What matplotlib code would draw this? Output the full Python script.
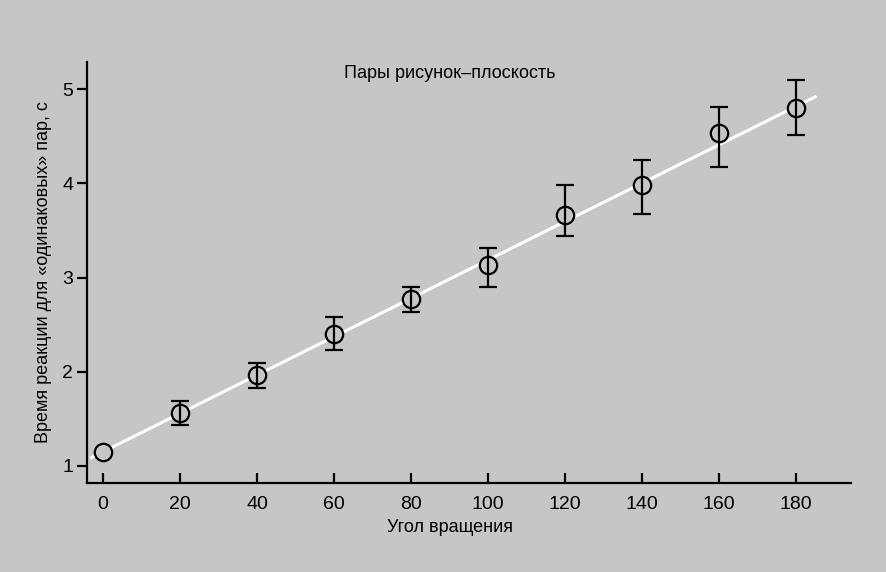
import matplotlib
matplotlib.use("Agg")
import matplotlib.pyplot as plt
import numpy as np

plt.rcParams['font.family'] = ['Liberation Sans Narrow', 'Liberation Sans', 'DejaVu Sans']

# Data
angles = [0, 20, 40, 60, 80, 100, 120, 140, 160, 180]
rt_mean = [1.15, 1.56, 1.97, 2.40, 2.77, 3.13, 3.66, 3.98, 4.54, 4.80]
rt_upper = [1.15, 1.69, 2.09, 2.58, 2.90, 3.31, 3.98, 4.25, 4.81, 5.10]
rt_lower = [1.15, 1.43, 1.83, 2.23, 2.63, 2.90, 3.44, 3.68, 4.18, 4.52]
fit_x = [-3, 185]
fit_y = [1.09, 4.92]
x_ticks = [0, 20, 40, 60, 80, 100, 120, 140, 160, 180]
y_ticks = [1, 2, 3, 4, 5]

title = "Пары рисунок–плоскость"
xlabel = "Угол вращения"
ylabel = "Время реакции для «одинаковых» пар, с"

bg = "#c6c6c6"

W, H = 887, 572
fig = plt.figure(figsize=(W / 100, H / 100), dpi=100, facecolor=bg)
ax = fig.add_axes([87 / W, 1 - 483.3 / H, (851 - 87) / W, (483.3 - 62) / H])
ax.set_facecolor(bg)

ax.plot(fit_x, fit_y, color="white", lw=2.2, zorder=2)

x = np.array(angles)
mean = np.array(rt_mean)
up = np.array(rt_upper)
lo = np.array(rt_lower)
has_err = (up - lo) > 0

ax.plot(x, mean, "o", ms=12.5, mfc=bg, mec="black", mew=1.6, zorder=3)
ax.errorbar(x[has_err], mean[has_err],
            yerr=[mean[has_err] - lo[has_err], up[has_err] - mean[has_err]],
            fmt="none", ecolor="black", elinewidth=1.6, capsize=6.5,
            capthick=1.6, zorder=4)

ax.set_xlim(-4.2, 194.3)
ax.set_ylim(0.816, 5.29)
ax.set_xticks(x_ticks)
ax.set_yticks(y_ticks)

for s in ["top", "right"]:
    ax.spines[s].set_visible(False)
for s in ["left", "bottom"]:
    ax.spines[s].set_linewidth(1.6)
    ax.spines[s].set_color("black")

ax.tick_params(axis="x", direction="in", length=7, width=1.6, labelsize=14, pad=9)
ax.tick_params(axis="y", direction="out", length=7, width=1.6, labelsize=14, pad=3)

fig.text(449.5 / W, 1 - 73 / H, title, ha="center", va="center", fontsize=13)
fig.text(450 / W, 1 - 527 / H, xlabel, ha="center", va="center", fontsize=13)
fig.text(44 / W, 1 - 272 / H, ylabel, ha="center", va="center", fontsize=13, rotation=90)

fig.savefig("out.png", dpi=100, facecolor=bg)
